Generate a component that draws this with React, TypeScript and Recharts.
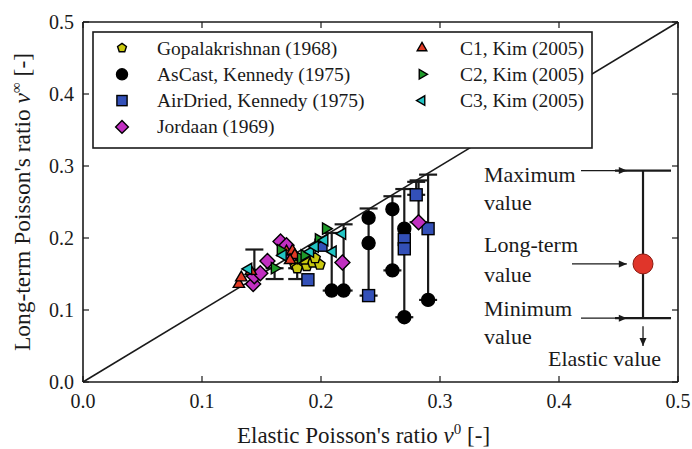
import React from 'react';
import {
  ScatterChart,
  Scatter,
  XAxis,
  YAxis,
  ErrorBar,
  ReferenceLine,
  ReferenceDot,
} from 'recharts';

const FONT = '"Liberation Serif", "Times New Roman", Times, serif';
const INK = '#1a1a1a';

// Axis ticks
const xTicks = [0, 0.1, 0.2, 0.3, 0.4, 0.5];
const yTicks = [0, 0.1, 0.2, 0.3, 0.4, 0.5];

type Pt = { x: number; y: number; err?: [number, number] };

// err = [below, above] for the vertical range bars
const gopalakrishnan: Pt[] = [
  { x: 0.178, y: 0.163 },
  { x: 0.18, y: 0.158, err: [0.015, 0] },
  { x: 0.188, y: 0.161 },
  { x: 0.193, y: 0.166 },
  { x: 0.199, y: 0.163 },
  { x: 0.186, y: 0.17 },
  { x: 0.195, y: 0.172 },
];

const asCastKennedy: Pt[] = [
  { x: 0.209, y: 0.127, err: [0, 0.08] },
  { x: 0.219, y: 0.127, err: [0, 0.092] },
  { x: 0.24, y: 0.228 },
  { x: 0.24, y: 0.193 },
  { x: 0.26, y: 0.24 },
  { x: 0.26, y: 0.155, err: [0, 0.103] },
  { x: 0.27, y: 0.213 },
  { x: 0.27, y: 0.09, err: [0, 0.178] },
  { x: 0.29, y: 0.114, err: [0, 0.174] },
];

const airDriedKennedy: Pt[] = [
  { x: 0.189, y: 0.142 },
  { x: 0.2, y: 0.19 },
  { x: 0.24, y: 0.12, err: [0, 0.121] },
  { x: 0.27, y: 0.198 },
  { x: 0.27, y: 0.185 },
  { x: 0.28, y: 0.26, err: [0, 0.018] },
  { x: 0.29, y: 0.213 },
];

const jordaan: Pt[] = [
  { x: 0.143, y: 0.136 },
  { x: 0.144, y: 0.147, err: [0, 0.037] },
  { x: 0.149, y: 0.151 },
  { x: 0.155, y: 0.168 },
  { x: 0.166, y: 0.195 },
  { x: 0.171, y: 0.19 },
  { x: 0.175, y: 0.174 },
  { x: 0.218, y: 0.166 },
  { x: 0.282, y: 0.222, err: [0, 0.058] },
];

const c1Kim: Pt[] = [
  { x: 0.131, y: 0.136 },
  { x: 0.133, y: 0.145 },
  { x: 0.141, y: 0.154 },
  { x: 0.171, y: 0.181 },
  { x: 0.176, y: 0.182 },
  { x: 0.178, y: 0.176 },
  { x: 0.174, y: 0.169 },
];

const c2Kim: Pt[] = [
  { x: 0.161, y: 0.158, err: [0.015, 0] },
  { x: 0.166, y: 0.183 },
  { x: 0.183, y: 0.172 },
  { x: 0.186, y: 0.176 },
  { x: 0.198, y: 0.198 },
  { x: 0.204, y: 0.213 },
];

const c3Kim: Pt[] = [
  { x: 0.139, y: 0.157 },
  { x: 0.168, y: 0.176 },
  { x: 0.191, y: 0.181 },
  { x: 0.195, y: 0.188 },
  { x: 0.203, y: 0.197 },
  { x: 0.21, y: 0.181 },
  { x: 0.218, y: 0.206 },
];

// Explanatory marker: long-term value with its minimum / maximum range
const keyPoint: Pt[] = [{ x: 0.4706, y: 0.164, err: [0.0754, 0.1296] }];

type Kind = 'pentagon' | 'circle' | 'square' | 'diamond' | 'triUp' | 'triRight' | 'triLeft';

const series: { name: string; data: Pt[]; kind: Kind; fill: string }[] = [
  { name: 'Gopalakrishnan (1968)', data: gopalakrishnan, kind: 'pentagon', fill: '#c9c80e' },
  { name: 'AsCast, Kennedy (1975)', data: asCastKennedy, kind: 'circle', fill: '#000000' },
  { name: 'AirDried, Kennedy (1975)', data: airDriedKennedy, kind: 'square', fill: '#3350b8' },
  { name: 'Jordaan (1969)', data: jordaan, kind: 'diamond', fill: '#c12fc1' },
  { name: 'C1, Kim (2005)', data: c1Kim, kind: 'triUp', fill: '#e23a25' },
  { name: 'C2, Kim (2005)', data: c2Kim, kind: 'triRight', fill: '#1f9a2a' },
  { name: 'C3, Kim (2005)', data: c3Kim, kind: 'triLeft', fill: '#22c4c4' },
];

const polyPts = (pts: [number, number][]) => pts.map((p) => p.join(',')).join(' ');

function Marker({ kind, cx, cy, fill, s = 1 }: { kind: Kind; cx: number; cy: number; fill: string; s?: number }) {
  const common = { fill, stroke: '#000', strokeWidth: 1.4, strokeLinejoin: 'miter' as const };
  switch (kind) {
    case 'circle':
      return <circle cx={cx} cy={cy} r={6.5 * s} {...common} />;
    case 'square': {
      const h = 6 * s;
      return <rect x={cx - h} y={cy - h} width={2 * h} height={2 * h} {...common} />;
    }
    case 'diamond': {
      const h = 7.5 * s;
      return <polygon points={polyPts([[cx, cy - h], [cx + h, cy], [cx, cy + h], [cx - h, cy]])} {...common} />;
    }
    case 'pentagon': {
      const r = 5.5 * s;
      const pts: [number, number][] = [];
      for (let i = 0; i < 5; i++) {
        const a = -Math.PI / 2 + (i * 2 * Math.PI) / 5;
        pts.push([cx + r * Math.cos(a), cy + r * Math.sin(a)]);
      }
      return <polygon points={polyPts(pts)} {...common} />;
    }
    case 'triUp': {
      const r = 6.5 * s;
      return <polygon points={polyPts([[cx, cy - r], [cx + r * 0.87, cy + r * 0.5], [cx - r * 0.87, cy + r * 0.5]])} {...common} />;
    }
    case 'triRight': {
      const r = 6.5 * s;
      return <polygon points={polyPts([[cx + r, cy], [cx - r * 0.5, cy - r * 0.87], [cx - r * 0.5, cy + r * 0.87]])} {...common} />;
    }
    case 'triLeft': {
      const r = 6.5 * s;
      return <polygon points={polyPts([[cx - r, cy], [cx + r * 0.5, cy - r * 0.87], [cx + r * 0.5, cy + r * 0.87]])} {...common} />;
    }
  }
  return null;
}

const fmt = (v: number) => Number(v).toFixed(1);

const BottomTick = (p: any) => (
  <g>
    <line x1={p.x} x2={p.x} y1={p.y} y2={p.y - 6} stroke={INK} strokeWidth={1.2} />
    <text x={p.x} y={p.y + 26} textAnchor="middle" fontFamily={FONT} fontSize={20} fill={INK}>
      {fmt(p.payload.value)}
    </text>
  </g>
);

const TopTick = (p: any) => (
  <line x1={p.x} x2={p.x} y1={p.y} y2={p.y + 6} stroke={INK} strokeWidth={1.2} />
);

const LeftTick = (p: any) => (
  <g>
    <line x1={p.x} x2={p.x + 6} y1={p.y} y2={p.y} stroke={INK} strokeWidth={1.2} />
    <text x={p.x - 9} y={p.y + 7} textAnchor="end" fontFamily={FONT} fontSize={20} fill={INK}>
      {fmt(p.payload.value)}
    </text>
  </g>
);

const RightTick = (p: any) => (
  <line x1={p.x} x2={p.x - 6} y1={p.y} y2={p.y} stroke={INK} strokeWidth={1.2} />
);

const XTitle = (props: any) => {
  const vb = props.viewBox || {};
  const cx = vb.x + vb.width / 2 - 17;
  const y = vb.y + 61;
  return (
    <text x={cx} y={y} textAnchor="middle" fontFamily={FONT} fontSize={23} fill={INK}>
      Elastic Poisson's ratio <tspan fontStyle="italic">ν</tspan>
      <tspan dy={-9} fontSize={15}>0</tspan>
      <tspan dy={9}> [-]</tspan>
    </text>
  );
};

const YTitle = (props: any) => {
  const vb = props.viewBox || {};
  const x = 30;
  const cy = vb.y + vb.height / 2;
  return (
    <text
      x={x}
      y={cy}
      textAnchor="middle"
      transform={`rotate(-90 ${x} ${cy})`}
      fontFamily={FONT}
      fontSize={23.5}
      fill={INK}
    >
      Long-term Poisson's ratio <tspan fontStyle="italic">ν</tspan>
      <tspan dy={-9} fontSize={15}>∞</tspan>
      <tspan dy={9}> [-]</tspan>
    </text>
  );
};

// Arrowhead drawn at a reference point
const arrowHead = (dir: 'right' | 'down') => (p: any) => {
  const { cx, cy } = p;
  const pts: [number, number][] =
    dir === 'right'
      ? [[cx, cy], [cx - 8, cy - 3.5], [cx - 8, cy + 3.5]]
      : [[cx, cy], [cx - 3.5, cy - 8], [cx + 3.5, cy - 8]];
  return <polygon points={polyPts(pts)} fill={INK} />;
};

// Multi-line annotation text placed relative to a reference point
const noteText = (lines: string[], dx: number, dy: number, lh: number) => (p: any) => (
  <text fontFamily={FONT} fontSize={22} fill={INK}>
    {lines.map((l, i) => (
      <tspan key={i} x={p.cx + dx} y={p.cy + dy + i * lh}>
        {l}
      </tspan>
    ))}
  </text>
);

const key = keyPoint[0];
const keyMax = key.y + (key.err as [number, number])[1];
const keyMin = key.y - (key.err as [number, number])[0];
const arrowTipX = 0.457;
const arrowStartX = 0.4185;
const longArrowStartX = 0.4109;

const legendRows = [
  [series[0], series[4]],
  [series[1], series[5]],
  [series[2], series[6]],
  [series[3], null],
];

function LegendBox() {
  const w = 499;
  const h = 116;
  return (
    <svg
      width={w}
      height={h}
      style={{ position: 'absolute', left: 93, top: 32, overflow: 'visible' }}
    >
      <rect x={0} y={0} width={w} height={h} fill="#fff" stroke={INK} strokeWidth={1.6} />
      {legendRows.map((row, r) =>
        row.map((s, c) =>
          s ? (
            <g key={`${r}-${c}`}>
              <Marker kind={s.kind} cx={c === 0 ? 29 : 329} cy={16 + r * 26.3} fill={s.fill} s={0.85} />
              <text
                x={c === 0 ? 64 : 367}
                y={16 + r * 26.3 + 6.5}
                fontFamily={FONT}
                fontSize={19.5}
                fill={INK}
              >
                {s.name}
              </text>
            </g>
          ) : null
        )
      )}
    </svg>
  );
}

export default function App() {
  return (
    <div style={{ position: 'absolute', left: 0, top: 0, width: 692, height: 449, background: '#fff' }}>
      <ScatterChart width={692} height={449} margin={{ top: 0, right: 0, bottom: 0, left: 0 }}>
        <XAxis
          xAxisId="b"
          type="number"
          dataKey="x"
          domain={[0, 0.5]}
          ticks={xTicks}
          orientation="bottom"
          height={67}
          tickLine={false}
          tickSize={0}
          tickMargin={0}
          tick={BottomTick}
          axisLine={{ stroke: INK, strokeWidth: 1.6 }}
          allowDataOverflow
          label={<XTitle />}
        />
        <XAxis
          xAxisId="t"
          type="number"
          dataKey="x"
          domain={[0, 0.5]}
          ticks={xTicks}
          orientation="top"
          height={22}
          tickLine={false}
          tickSize={0}
          tickMargin={0}
          tick={TopTick}
          axisLine={{ stroke: INK, strokeWidth: 1.6 }}
          allowDataOverflow
        />
        <YAxis
          yAxisId="l"
          type="number"
          dataKey="y"
          domain={[0, 0.5]}
          ticks={yTicks}
          orientation="left"
          width={83}
          tickLine={false}
          tickSize={0}
          tickMargin={0}
          tick={LeftTick}
          axisLine={{ stroke: INK, strokeWidth: 1.6 }}
          allowDataOverflow
          label={<YTitle />}
        />
        <YAxis
          yAxisId="r"
          type="number"
          dataKey="y"
          domain={[0, 0.5]}
          ticks={yTicks}
          orientation="right"
          width={14}
          tickLine={false}
          tickSize={0}
          tickMargin={0}
          tick={RightTick}
          axisLine={{ stroke: INK, strokeWidth: 1.6 }}
          allowDataOverflow
        />

        {/* line of equality */}
        <ReferenceLine
          xAxisId="b"
          yAxisId="l"
          segment={[{ x: 0, y: 0 }, { x: 0.5, y: 0.5 }]}
          stroke={INK}
          strokeWidth={1.6}
        />

        {series.map((s) => (
          <Scatter
            key={s.name}
            name={s.name}
            data={s.data}
            xAxisId="b"
            yAxisId="l"
            isAnimationActive={false}
            shape={(p: any) => <Marker kind={s.kind} cx={p.cx} cy={p.cy} fill={s.fill} />}
          >
            <ErrorBar dataKey="err" direction="y" width={9} stroke={INK} strokeWidth={2.2} />
          </Scatter>
        ))}

        {/* explanatory key */}
        <Scatter
          name="key"
          data={keyPoint}
          xAxisId="b"
          yAxisId="l"
          isAnimationActive={false}
          shape={(p: any) => <circle cx={p.cx} cy={p.cy} r={10} fill="#e0352a" stroke="#8a1a10" strokeWidth={1} />}
        >
          <ErrorBar dataKey="err" direction="y" width={28} stroke={INK} strokeWidth={2.2} />
        </Scatter>

        <ReferenceLine xAxisId="b" yAxisId="l" segment={[{ x: arrowStartX, y: keyMax }, { x: arrowTipX, y: keyMax }]} stroke={INK} strokeWidth={1.3} />
        <ReferenceLine xAxisId="b" yAxisId="l" segment={[{ x: longArrowStartX, y: key.y }, { x: arrowTipX, y: key.y }]} stroke={INK} strokeWidth={1.3} />
        <ReferenceLine xAxisId="b" yAxisId="l" segment={[{ x: arrowStartX, y: keyMin }, { x: arrowTipX, y: keyMin }]} stroke={INK} strokeWidth={1.3} />
        <ReferenceLine xAxisId="b" yAxisId="l" segment={[{ x: key.x, y: keyMin - 0.011 }, { x: key.x, y: 0.05 }]} stroke={INK} strokeWidth={1.3} />

        <ReferenceDot xAxisId="b" yAxisId="l" x={arrowTipX} y={keyMax} r={0} shape={arrowHead('right')} />
        <ReferenceDot xAxisId="b" yAxisId="l" x={arrowTipX} y={key.y} r={0} shape={arrowHead('right')} />
        <ReferenceDot xAxisId="b" yAxisId="l" x={arrowTipX} y={keyMin} r={0} shape={arrowHead('right')} />
        <ReferenceDot xAxisId="b" yAxisId="l" x={key.x} y={0.05} r={0} shape={arrowHead('down')} />

        <ReferenceDot xAxisId="b" yAxisId="l" x={arrowStartX} y={keyMax} r={0} shape={noteText(['Maximum', 'value'], -97, 11, 28)} />
        <ReferenceDot xAxisId="b" yAxisId="l" x={longArrowStartX} y={key.y} r={0} shape={noteText(['Long-term', 'value'], -88, -12, 30)} />
        <ReferenceDot xAxisId="b" yAxisId="l" x={arrowStartX} y={keyMin} r={0} shape={noteText(['Minimum', 'value'], -97, -2, 28)} />
        <ReferenceDot xAxisId="b" yAxisId="l" x={key.x} y={0.05} r={0} shape={noteText(['Elastic value'], -95, 20, 0)} />
      </ScatterChart>
      <LegendBox />
    </div>
  );
}
